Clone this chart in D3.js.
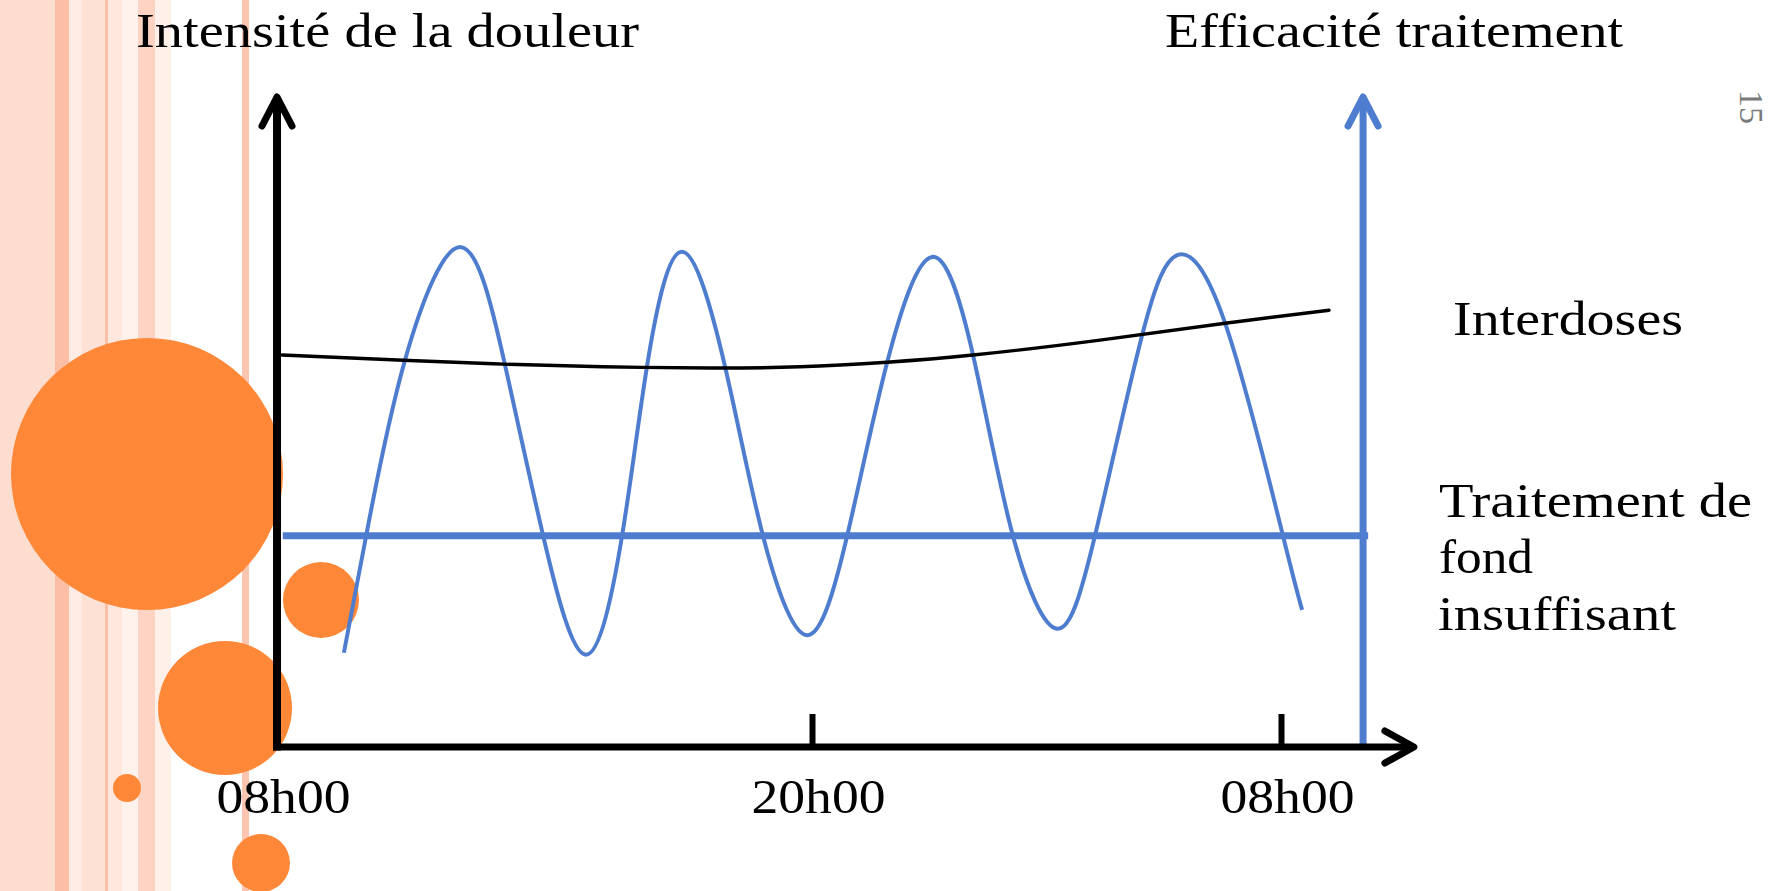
<!DOCTYPE html>
<html>
<head>
<meta charset="utf-8">
<script src="https://cdn.jsdelivr.net/npm/d3@7"></script>
<style>
  html, body { margin: 0; padding: 0; background: #fff; overflow: hidden; }
  svg { display: block; }
  text { font-family: "Liberation Serif", "DejaVu Serif", serif; fill: #000; }
</style>
</head>
<body>
<svg id="chart"></svg>
<script>
// time axis, in hours after 08h00
const tickHours = [0, 12, 24];
const tickLabels = ['08h00', '20h00', '08h00'];

// pain intensity, blue oscillating curve
const waveHours  = [1.50, 2.00, 2.87, 4.13, 5.11, 5.97, 6.93, 7.74, 8.30, 9.08, 10.05, 10.90, 11.89, 12.90, 13.92, 15.07, 16.12, 17.14, 18.27, 19.24, 20.44, 21.36, 22.57, 24.05, 24.54];
const waveLevels = [1.45, 3.25, 5.95, 7.69, 5.89, 3.25, 1.42, 3.25, 5.86, 7.62, 5.85, 3.25, 1.72, 3.25, 5.91, 7.54, 6.03, 3.25, 1.82, 3.25, 6.32, 7.57, 6.52, 3.25, 2.11];

// interdoses trend, black curve
const trendHours  = [0.11, 2.83, 5.07, 7.31, 9.71, 11.73, 13.92, 16.12, 19.37, 22.57, 25.23];
const trendLevels = [6.03, 5.95, 5.89, 5.85, 5.83, 5.85, 5.92, 6.03, 6.26, 6.52, 6.72];

// background treatment, flat blue line
const treatmentHours = [0.13, 26.23];
const treatmentLevel = 3.25;

const xAxisEnd = 27.4;      // arrow tip of time axis
const rightAxisHour = 26.1; // treatment efficacy axis
const yMax = 10;

const axisTitles = ['Intensité de la douleur', 'Efficacité traitement'];
const seriesLabels = ['Interdoses', ['Traitement de', 'fond', 'insuffisant']];
const pageNumber = '15';

const width = 1773, height = 891;
const blue = '#4E7DCF', orange = '#FE8838';

const svg = d3.select('#chart').attr('width', width).attr('height', height);

// left decoration: stripes and dots
const stripes = [
  [0, 55, '#FDDDD0'], [55, 69, '#FDBEA6'], [69, 82, '#FEECE4'], [82, 105, '#FDE1D5'],
  [105, 108, '#FCBFA8'], [108, 122, '#FEE7DD'], [122, 138, '#FFF2EC'], [138, 155, '#FDD4C4'],
  [155, 171, '#FFF0E9'], [242, 249, '#FCC5AF']
];
svg.selectAll('.stripe')
  .data(stripes)
  .enter()
  .append('rect')
  .attr('class', 'stripe')
  .attr('x', d => d[0])
  .attr('y', 0)
  .attr('width', d => d[1] - d[0])
  .attr('height', height)
  .attr('fill', d => d[2]);

const dots = [[147, 474, 136], [225, 708, 67], [321, 600, 38], [127, 788, 14], [261, 863, 29]];
svg.selectAll('.dot')
  .data(dots)
  .enter()
  .append('circle')
  .attr('class', 'dot')
  .attr('cx', d => d[0])
  .attr('cy', d => d[1])
  .attr('r', d => d[2])
  .attr('fill', orange);

// scales
const x = d3.scaleLinear().domain(tickHours).range([277, 812, 1281]);
const y = d3.scaleLinear().domain([0, yMax]).range([747, 97]);

const line = d3.line()
  .x(d => x(d[0]))
  .y(d => y(d[1]))
  .curve(d3.curveNatural);

// treatment line
svg.append('line')
  .attr('x1', x(treatmentHours[0]))
  .attr('x2', x(treatmentHours[1]))
  .attr('y1', y(treatmentLevel))
  .attr('y2', y(treatmentLevel))
  .attr('stroke', blue)
  .attr('stroke-width', 7);

// oscillating pain curve
svg.append('path')
  .datum(waveHours.map((h, i) => [h, waveLevels[i]]))
  .attr('d', line)
  .attr('fill', 'none')
  .attr('stroke', blue)
  .attr('stroke-width', 4);

// interdoses trend
svg.append('path')
  .datum(trendHours.map((h, i) => [h, trendLevels[i]]))
  .attr('d', line)
  .attr('fill', 'none')
  .attr('stroke', '#000')
  .attr('stroke-width', 3.4)
  .attr('stroke-linecap', 'round');

// axes with open arrow heads
const chevron = (tx, ty, ax, ay, bx, by) => `M${ax},${ay}L${tx},${ty}L${bx},${by}`;

const x0 = x(0), y0 = y(0), yTop = y(yMax), xEnd = x(xAxisEnd), xRight = x(rightAxisHour);

svg.append('line')
  .attr('x1', xRight).attr('x2', xRight)
  .attr('y1', y0).attr('y2', yTop)
  .attr('stroke', blue).attr('stroke-width', 7);
svg.append('path')
  .attr('d', chevron(xRight, yTop, xRight - 15, yTop + 29, xRight + 15, yTop + 29))
  .attr('fill', 'none').attr('stroke', blue).attr('stroke-width', 7)
  .attr('stroke-linecap', 'round').attr('stroke-linejoin', 'round');

svg.append('line')
  .attr('x1', x0).attr('x2', x0)
  .attr('y1', y0 + 3.5).attr('y2', yTop)
  .attr('stroke', '#000').attr('stroke-width', 8);
svg.append('path')
  .attr('d', chevron(x0, yTop, x0 - 15, yTop + 29, x0 + 15, yTop + 29))
  .attr('fill', 'none').attr('stroke', '#000').attr('stroke-width', 7)
  .attr('stroke-linecap', 'round').attr('stroke-linejoin', 'round');

svg.append('line')
  .attr('x1', x0 - 4).attr('x2', xEnd)
  .attr('y1', y0).attr('y2', y0)
  .attr('stroke', '#000').attr('stroke-width', 7);
svg.append('path')
  .attr('d', chevron(xEnd, y0, xEnd - 29, y0 - 16, xEnd - 29, y0 + 16))
  .attr('fill', 'none').attr('stroke', '#000').attr('stroke-width', 7)
  .attr('stroke-linecap', 'round').attr('stroke-linejoin', 'round');

// ticks and labels
const xAxis = d3.axisBottom(x)
  .tickValues(tickHours)
  .tickSize(-33)
  .tickPadding(31)
  .tickFormat((d, i) => tickLabels[i]);

const gx = svg.append('g')
  .attr('transform', `translate(0, ${y0})`)
  .call(xAxis);
gx.select('.domain').remove();
gx.selectAll('.tick line').attr('stroke', '#000').attr('stroke-width', 6);
gx.selectAll('.tick text')
  .attr('dx', 6)
  .attr('fill', '#000')
  .attr('textLength', 134)
  .attr('lengthAdjust', 'spacingAndGlyphs')
  .style('font-size', '49px')
  .style('font-family', '"Liberation Serif", "DejaVu Serif", serif');

// titles and labels
const addText = (str, tx, ty, len) => svg.append('text')
  .attr('x', tx)
  .attr('y', ty)
  .attr('textLength', len)
  .attr('lengthAdjust', 'spacingAndGlyphs')
  .style('font-size', '49px')
  .text(str);

addText(axisTitles[0], 136, 47, 503);
addText(axisTitles[1], 1165, 47, 458);
addText(seriesLabels[0], 1453, 335, 230);
const wrapped = seriesLabels[1];
addText(wrapped[0], 1439, 517, 313);
addText(wrapped[1], 1439, 573, 94);
addText(wrapped[2], 1438, 630, 238);

svg.append('text')
  .attr('transform', 'translate(1740, 90) rotate(90)')
  .style('font-size', '34px')
  .style('fill', '#7a7a7a')
  .text(pageNumber);
</script>
</body>
</html>
